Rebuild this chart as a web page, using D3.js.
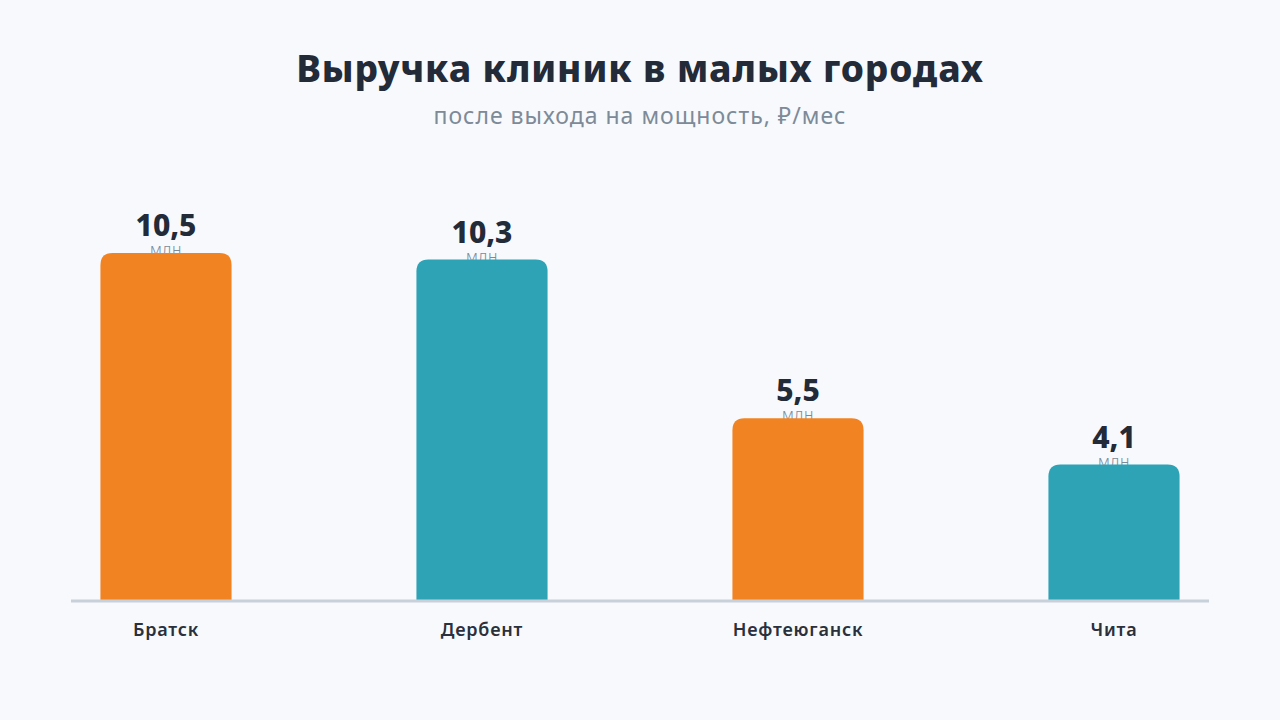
<!DOCTYPE html>
<html>
<head>
<meta charset="utf-8">
<script src="https://cdn.jsdelivr.net/npm/d3@7"></script>
<style>
  body { margin: 0; background: #f7f9fc; }
  svg { display: block; font-family: "Noto Sans", "Open Sans", sans-serif; }
</style>
</head>
<body>
<div id="chart"></div>
<script>
// data
const cities = ['Братск', 'Дербент', 'Нефтеюганск', 'Чита'];
const revenue = [10.5, 10.3, 5.5, 4.1];
const valueLabels = ['10,5', '10,3', '5,5', '4,1'];
const barColors = ['#f28322', '#2ea3b5', '#f28322', '#2ea3b5'];

const chart_width = 1280;
const chart_height = 720;
const baseline = 600;

const svg = d3.select('#chart')
  .append('svg')
  .attr('width', chart_width)
  .attr('height', chart_height);

svg.append('rect')
  .attr('width', chart_width)
  .attr('height', chart_height)
  .attr('fill', '#f7f9fc');

// titles
svg.append('text')
  .attr('x', 640).attr('y', 82)
  .attr('text-anchor', 'middle')
  .attr('font-size', 37).attr('font-weight', 800)
  .attr('letter-spacing', 0.9)
  .attr('fill', '#232a38')
  .text('Выручка клиник в малых городах');

svg.append('text')
  .attr('x', 640).attr('y', 124)
  .attr('text-anchor', 'middle')
  .attr('font-size', 23).attr('font-weight', 400)
  .attr('letter-spacing', 1.0)
  .attr('fill', '#7d8a98')
  .text('после выхода на мощность, ₽/мес');

const data = cities.map((c, i) => ({city: c, value: revenue[i], label: valueLabels[i], color: barColors[i]}));

const x_scale = d3.scaleBand()
  .domain(cities)
  .range([8, 1272])
  .paddingInner(0.585)
  .paddingOuter(0.2925);

const y_scale = d3.scaleLinear()
  .domain([0, 10.5])
  .range([baseline, 253]);

// value labels (drawn under the bars)
const labels = svg.append('g').attr('class', 'labels');
labels.selectAll('text.value')
  .data(data)
  .enter()
  .append('text')
  .attr('class', 'value')
  .attr('x', d => x_scale(d.city) + x_scale.bandwidth() / 2)
  .attr('y', d => y_scale(d.value) - 17)
  .attr('text-anchor', 'middle')
  .attr('font-size', 30).attr('font-weight', 800)
  .attr('fill', '#232a38')
  .text(d => d.label);

labels.selectAll('text.unit')
  .data(data)
  .enter()
  .append('text')
  .attr('class', 'unit')
  .attr('x', d => x_scale(d.city) + x_scale.bandwidth() / 2)
  .attr('y', d => y_scale(d.value) + 2)
  .attr('text-anchor', 'middle')
  .attr('font-size', 16).attr('font-weight', 300)
  .attr('letter-spacing', 0.6)
  .attr('fill', '#7d8a98')
  .text('млн');

// bars with rounded top corners
const r = 12;
svg.append('g').attr('class', 'bars')
  .selectAll('path')
  .data(data)
  .enter()
  .append('path')
  .attr('fill', d => d.color)
  .attr('d', d => {
    const x0 = x_scale(d.city), w = x_scale.bandwidth();
    const y0 = y_scale(d.value), y1 = y_scale(0);
    return `M${x0},${y1}V${y0 + r}Q${x0},${y0} ${x0 + r},${y0}H${x0 + w - r}Q${x0 + w},${y0} ${x0 + w},${y0 + r}V${y1}Z`;
  });

// axis
const x_axis = d3.axisBottom(x_scale).tickSize(0).tickPadding(23);
const axis_g = svg.append('g')
  .attr('class', 'x-axis')
  .attr('transform', 'translate(0,' + baseline + ')')
  .call(x_axis);
axis_g.select('.domain').remove();
axis_g.selectAll('text')
  .attr('font-size', 18).attr('font-weight', 600)
  .attr('letter-spacing', 0.8)
  .attr('font-family', '"Noto Sans", sans-serif')
  .attr('fill', '#2a303c');

svg.append('line')
  .attr('x1', 71).attr('x2', 1209)
  .attr('y1', baseline + 1).attr('y2', baseline + 1)
  .attr('stroke', '#c8d1da').attr('stroke-width', 3);
</script>
</body>
</html>
